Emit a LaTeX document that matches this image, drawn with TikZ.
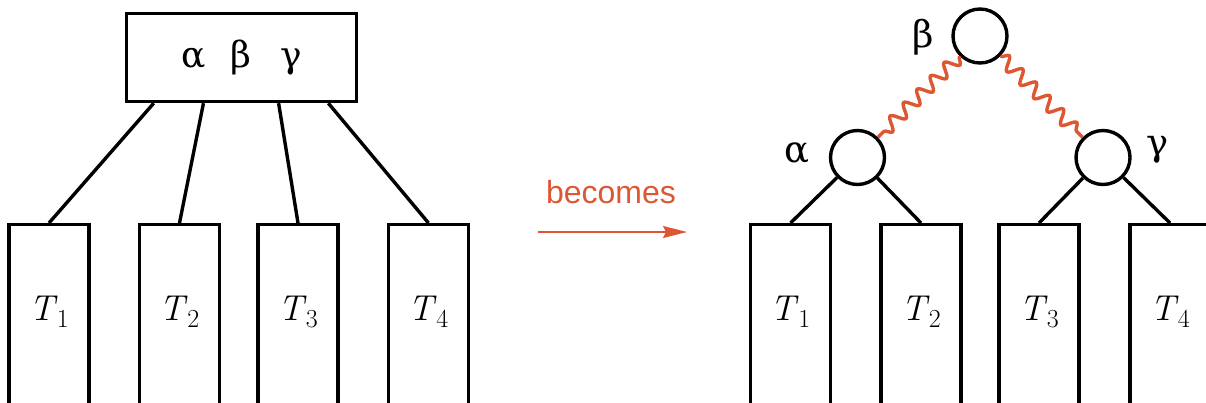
\documentclass[tikz,border=0pt]{standalone}
\usepackage{fontspec}
\newfontfamily\grk{DejaVu Serif}
\newfontfamily\sansf{Liberation Sans}
\usetikzlibrary{decorations.pathmorphing,arrows.meta,calc}
\definecolor{orng}{RGB}{221,88,50}
\newcommand{\Tsub}[1]{\textit{T}\kern-1pt\raisebox{-7pt}{\fontsize{26}{26}\selectfont #1}}
\begin{document}
\begin{tikzpicture}[x=1pt,y=-1pt, line width=3.4pt,
  tbox/.style={draw, minimum width=80pt, minimum height=200pt, inner sep=0pt, anchor=north},
  tlabel/.style={font=\fontsize{36}{40}\selectfont, inner sep=0pt},
  glabel/.style={font=\grk\fontsize{37}{40}\selectfont, inner sep=0pt},
  knot/.style={draw, circle, minimum size=54pt, inner sep=0pt},
  link/.style={line width=3.4pt},
  wavy/.style={draw=orng, line width=3.4pt, decorate, decoration={snake, segment length=19pt, amplitude=6.5pt}},
  becarrow/.style={draw=orng, line width=1.5pt, -{Stealth[length=24pt, width=12pt, inset=3pt]}},
]
\useasboundingbox (0,0) rectangle (1206,402);
\clip (0,0) rectangle (1206,402);
% ---------- left side ----------
\node[draw, minimum width=230pt, minimum height=88pt, inner sep=0pt, font=\grk\fontsize{36}{40}\selectfont] (top) at (241.5,57.5) {α\hspace{25pt}β\hspace{29pt}γ};
\node[tbox] (L1) at (49,223) {};
\node[tbox] (L2) at (179.5,223) {};
\node[tbox] (L3) at (298,223) {};
\node[tbox] (L4) at (428.5,223) {};
\node[tlabel] (l1) at (49,312) {\Tsub{1}};
\node[tlabel] (l2) at (179.5,312) {\Tsub{2}};
\node[tlabel] (l3) at (298,312) {\Tsub{3}};
\node[tlabel] (l4) at (428.5,312) {\Tsub{4}};
\draw[link] ($(top.south west)!0.124!(top.south east)$) -- (L1.north);
\draw[link] ($(top.south west)!0.337!(top.south east)$) -- (L2.north);
\draw[link] ($(top.south west)!0.659!(top.south east)$) -- (L3.north);
\draw[link] ($(top.south west)!0.872!(top.south east)$) -- (L4.north);
% ---------- middle ----------
\node[font=\sansf\fontsize{32}{38}\selectfont, text=orng, inner sep=0pt, anchor=base] (bec) at (611,203) {becomes};
\coordinate (as) at (538,232);
\coordinate (ae) at (687,232);
\draw[becarrow] (as) -- (ae);
% ---------- right side ----------
\node[knot] (b) at (980,36) {};
\node[knot] (a) at (857.5,157.5) {};
\node[knot] (g) at (1103,157.5) {};
\node[glabel] (bl) at (923,37) {β};
\node[glabel] (al) at (797,153) {α};
\node[glabel] (gl) at (1158,150) {γ};
\draw[wavy] (b) -- (a);
\draw[wavy] (b) -- (g);
\node[tbox] (R1) at (790.5,223) {};
\node[tbox] (R2) at (921,223) {};
\node[tbox] (R3) at (1039,223) {};
\node[tbox] (R4) at (1170,223) {};
\node[tlabel] (r1) at (790.5,312) {\Tsub{1}};
\node[tlabel] (r2) at (921,312) {\Tsub{2}};
\node[tlabel] (r3) at (1039,312) {\Tsub{3}};
\node[tlabel] (r4) at (1170,312) {\Tsub{4}};
\draw[link] (a) -- (R1.north);
\draw[link] (a) -- (R2.north);
\draw[link] (g) -- (R3.north);
\draw[link] (g) -- (R4.north);
\end{tikzpicture}
\end{document}
